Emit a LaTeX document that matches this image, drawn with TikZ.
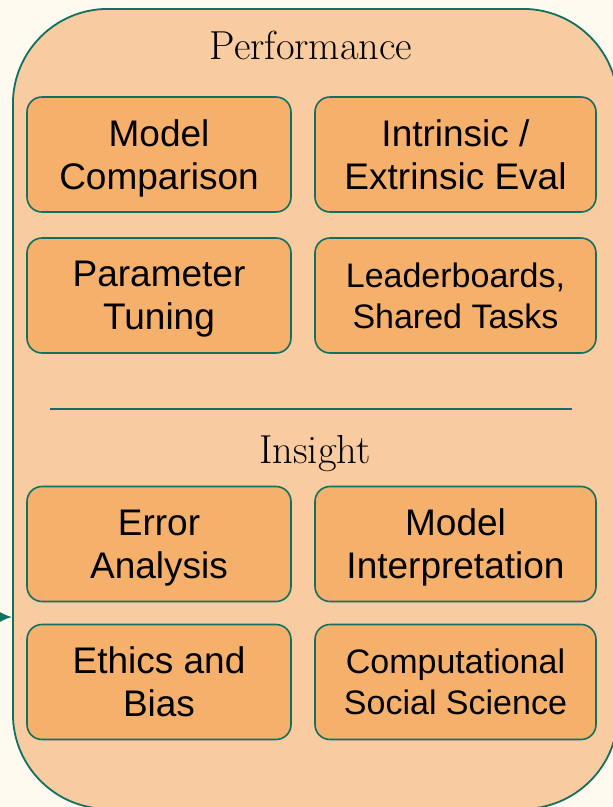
\documentclass[tikz,border=0pt]{standalone}
\usepackage{fontspec}
\newfontfamily\boxfont{Liberation Sans}
\usetikzlibrary{arrows.meta}
\definecolor{bgc}{HTML}{FEFAF0}
\definecolor{outerc}{HTML}{F8CBA0}
\definecolor{innerc}{HTML}{F5B06C}
\definecolor{edgec}{HTML}{12705F}
\begin{document}
\begin{tikzpicture}[x=1pt,y=-1pt,
  panel/.style={draw=edgec,fill=outerc,line width=1.8pt,rounded corners=95pt},
  itembox/.style={draw=edgec,fill=innerc,line width=1.6pt,rounded corners=15pt,
    inner sep=0pt,align=center,text depth=0pt,font=\boxfont\fontsize{37}{43}\selectfont},
  smallitem/.style={itembox,font=\boxfont\fontsize{34}{41}\selectfont},
  title/.style={font=\fontsize{40.5}{48}\selectfont,inner sep=0pt},
  divider/.style={draw=edgec,line width=1.8pt},
  feed/.style={draw=edgec,line width=1.8pt,-{Latex[length=12pt,width=10pt]}}]
\useasboundingbox[fill=bgc] (0,0) rectangle (613,807);
\node[panel,minimum width=605pt,minimum height=800pt,anchor=north west] (panel) at (12,8) {};
\node[title] (perf) at (311,45) {Performance};
\node[itembox,minimum width=264pt,minimum height=115pt] (mc) at (159,154.5) {Model\\Comparison};
\node[itembox,minimum width=281pt,minimum height=115pt] (ie) at (455.5,154.5) {Intrinsic /\\Extrinsic Eval};
\node[itembox,minimum width=264pt,minimum height=115pt] (pt) at (159,295.5) {Parameter\\Tuning};
\node[smallitem,minimum width=281pt,minimum height=115pt] (lb) at (455.5,295.5) {Leaderboards,\\Shared Tasks};
\coordinate (dl) at (50,409);
\coordinate (dr) at (572,409);
\draw[divider] (dl) -- (dr);
\node[title] (ins) at (315,454) {Insight};
\node[itembox,minimum width=264pt,minimum height=115pt] (ea) at (159,544) {Error\\Analysis};
\node[itembox,minimum width=281pt,minimum height=115pt] (mi) at (455.5,544) {Model\\Interpretation};
\node[itembox,minimum width=264pt,minimum height=115pt] (eb) at (159,682) {Ethics and\\Bias};
\node[smallitem,minimum width=281pt,minimum height=115pt] (css) at (455.5,682) {Computational\\Social Science};
\coordinate (src) at (-6,617);
\draw[feed] (src) -- (panel.west |- src);
\end{tikzpicture}
\end{document}
